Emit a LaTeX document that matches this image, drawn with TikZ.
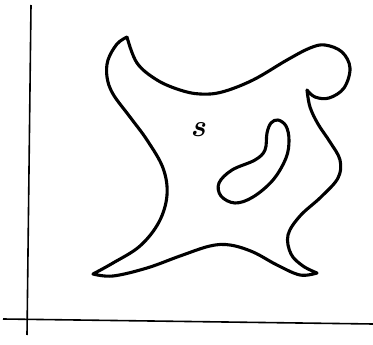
\documentclass[tikz,border=0pt]{standalone}
\usepackage{fontspec}
\usepackage{tikz}
\usetikzlibrary{positioning,calc}

\begin{document}
\begin{tikzpicture}[x=1pt,y=-1pt]
\tikzset{axisline/.style={line width=1.6pt},
  outline/.style={line width=3.1pt,line join=round,line cap=round}}
\useasboundingbox (0,0) rectangle (373,345);
% axes
\coordinate (ytop) at (31,5); \coordinate (ybot) at (27,335);
\coordinate (xleft) at (3,319); \coordinate (xright) at (373,324);
\draw[axisline] (ytop)--(ybot);
\draw[axisline] (xleft)--(xright);
% the region s
\node[inner sep=0pt] (lbl) at (198,130) {\fontsize{31}{36}\selectfont\bfseries\itshape s};
\draw[outline] plot[smooth,tension=0.6] coordinates {(127,37) (137,63) (157,80) (180,90) (200,94) (222,92) (253,80) (287,60) (310,48) (325,45) (342,52) (350,68) (344,88) (329,98) (315,97) (307,90)}
  --plot[smooth,tension=0.6] coordinates {(307,90) (310,107) (318,124) (330,142) (340,160) (338,178) (321,197) (300,216) (288,235) (291,254) (303,266) (317,273)}
  --plot[smooth,tension=0.6] coordinates {(317,273) (300,275) (277,265) (253,252) (230,245) (210,246) (180,256) (147,268) (113,276) (93,274)}
  --plot[smooth,tension=0.6] coordinates {(93,274) (113,263) (140,246) (159,222) (167,195) (163,168) (147,140) (130,117) (113,94) (107,77) (108,60) (117,44) (127,37)};
% the hole
\draw[outline] plot[smooth cycle,tension=0.6] coordinates {(278,120) (286,126) (289,140) (286,158) (273,180) (253,197) (235,203) (221,196) (219,183) (232,170) (255,160) (265,150) (267,133) (271,123)};
\end{tikzpicture}
\end{document}
